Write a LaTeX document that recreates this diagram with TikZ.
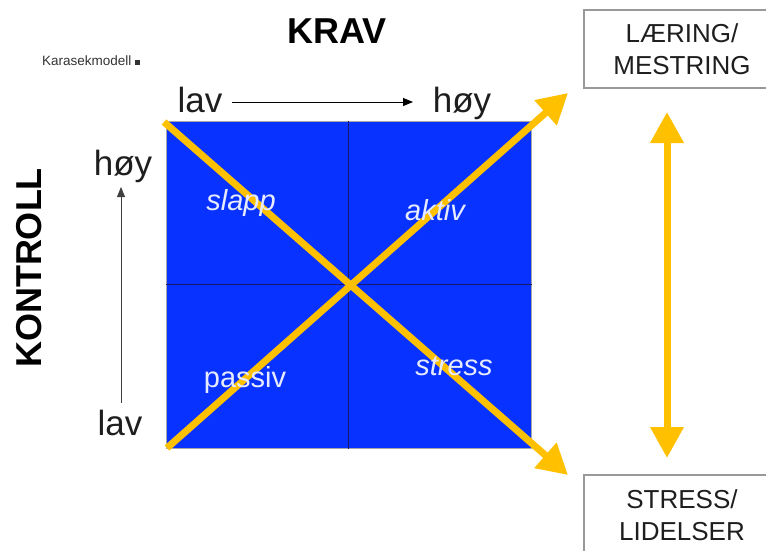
\documentclass[tikz,border=0pt]{standalone}
\usepackage{fontspec}
\setmainfont{Liberation Sans}
\usetikzlibrary{arrows.meta}
\definecolor{sqblue}{RGB}{8,50,255}
\definecolor{gold}{RGB}{255,192,0}
\definecolor{navyline}{RGB}{20,25,110}
\definecolor{inkgray}{RGB}{30,30,30}
\tikzset{
  axislabel/.style={font=\fontsize{35}{40}\selectfont, text=inkgray, anchor=base, inner sep=0pt},
  heading/.style={font=\bfseries\fontsize{36}{40}\selectfont, text=black, inner sep=0pt},
  quadlabel/.style={font=\fontsize{29}{34}\selectfont, text=white!90!sqblue, anchor=base, inner sep=0pt},
  outcome/.style={draw=gray!80, line width=1.3pt, minimum width=196pt, inner sep=0pt,
    align=center, text=inkgray, font=\fontsize{26}{32}\selectfont},
  thinarrow/.style={-{Triangle[length=10pt,width=8pt]}, line width=0.9pt},
  goldarrow/.style={draw=gold, line width=7pt, -{Triangle[length=30pt,width=32pt]}},
  goldboth/.style={draw=gold, line width=7pt, {Triangle[length=31pt,width=32pt]}-{Triangle[length=31pt,width=32pt]}},
}
\begin{document}
\begin{tikzpicture}[x=1pt,y=-1pt]
\useasboundingbox (0,0) rectangle (766,551);

% small caption
\node[font=\fontsize{13.5}{15}\selectfont, text=black!80, anchor=west, inner sep=0pt] (cap) at (42,61) {Karasekmodell \raisebox{0.05ex}{\rule{0.38em}{0.38em}}};

% headings
\node[heading] (krav) at (337,31) {KRAV};
\node[heading, rotate=90] (kontroll) at (29,268) {KONTROLL};

% KRAV axis
\node[axislabel] (kravlav) at (200,112) {lav};
\node[axislabel] (kravhoy) at (462,112) {høy};
\coordinate (kravfrom) at (232,102);
\coordinate (kravto) at (413,102);
\draw[thinarrow, draw=black] (kravfrom) -- (kravto);

% KONTROLL axis
\node[axislabel] (konthoy) at (123,175) {høy};
\node[axislabel] (kontlav) at (120,435) {lav};
\coordinate (kontfrom) at (121,403);
\coordinate (kontto) at (121,187);
\draw[thinarrow, draw=black!75] (kontfrom) -- (kontto);

% the four-field square
\node[draw=gray!70, line width=1pt, fill=sqblue, minimum width=365pt, minimum height=327pt, inner sep=0pt] (sq) at (348.5,284.5) {};
\draw[navyline, line width=1.5pt] (sq.north) -- (sq.south);
\draw[navyline, line width=1.5pt] (sq.west) -- (sq.east);

% diagonals
\coordinate (d1from) at (164,122);
\coordinate (d1to) at (568,475);
\coordinate (d2from) at (167,448);
\coordinate (d2to) at (568,93);
\draw[goldarrow] (d1from) -- (d1to);
\draw[goldarrow] (d2from) -- (d2to);

% quadrant labels
\node[quadlabel, font=\itshape\fontsize{29}{34}\selectfont] (slapp) at (241,210) {slapp};
\node[quadlabel, font=\itshape\fontsize{29}{34}\selectfont] (aktiv) at (435,220) {aktiv};
\node[quadlabel] (passiv) at (245,387) {passiv};
\node[quadlabel, font=\itshape\fontsize{29}{34}\selectfont] (stress) at (454,375) {stress};

% outcomes
\node[outcome, minimum height=78pt] (learn) at (682,49) {LÆRING/\\MESTRING};
\node[outcome, minimum height=80pt] (strain) at (682,515) {STRESS/\\LIDELSER};
\coordinate (vtop) at (667,112);
\coordinate (vbot) at (667,458);
\draw[goldboth] (vtop) -- (vbot);
\end{tikzpicture}
\end{document}
